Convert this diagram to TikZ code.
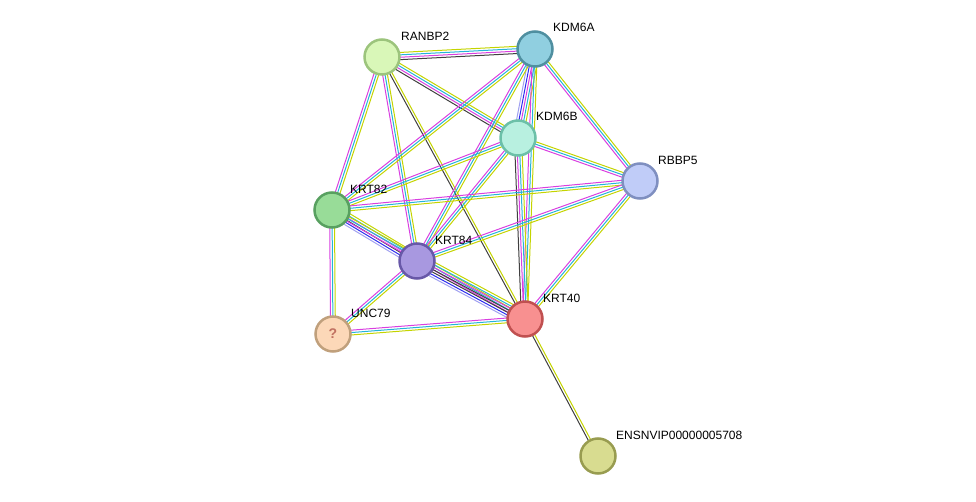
\documentclass[tikz,border=0pt]{standalone}
\usepackage{fontspec}
\setmainfont{Liberation Sans}
\usetikzlibrary{calc}
\definecolor{mg}{HTML}{D93FE0}
\definecolor{cy}{HTML}{25B4D8}
\definecolor{yg}{HTML}{C4D400}
\definecolor{bk}{HTML}{404040}
\definecolor{bl}{HTML}{2A2AF0}
\definecolor{lb}{HTML}{A0A0F0}
\newcommand\stredge[4]{%
  \foreach \c [count=\i] in {#4}{%
    \pgfmathsetmacro\off{(\i-(#3+1)/2)*2.4}
    \draw[\c,line width=1pt] ($(#1)!\off pt!90:(#2)$) -- ($(#2)!\off pt!-90:(#1)$);
  }}
\tikzset{prot/.style={circle,minimum size=35pt,inner sep=0pt,line width=2.5pt},
  lab/.style={anchor=west,font=\fontsize{12pt}{13pt}\selectfont,inner sep=0pt}}
\begin{document}
\begin{tikzpicture}[x=1pt,y=-1pt]
\useasboundingbox (0,0) rectangle (976,502);
\coordinate (ranbp2) at (382,57);
\coordinate (kdm6a) at (535,49);
\coordinate (kdm6b) at (518,138);
\coordinate (rbbp5) at (640,181);
\coordinate (krt82) at (332,210);
\coordinate (krt84) at (417,261);
\coordinate (krt40) at (525,319);
\coordinate (unc79) at (333,334);
\coordinate (ens) at (598,456);
\stredge{ranbp2}{kdm6a}{4}{bk,mg,cy,yg}
\stredge{ranbp2}{kdm6b}{4}{bk,mg,cy,yg}
\stredge{ranbp2}{krt82}{3}{mg,cy,yg}
\stredge{ranbp2}{krt84}{3}{mg,cy,yg}
\stredge{ranbp2}{krt40}{2}{bk,yg}
\stredge{kdm6a}{kdm6b}{5}{lb,bl,mg,cy,yg}
\stredge{kdm6a}{rbbp5}{3}{mg,cy,yg}
\stredge{kdm6a}{krt82}{3}{mg,cy,yg}
\stredge{kdm6a}{krt84}{3}{mg,cy,yg}
\stredge{kdm6a}{krt40}{3}{mg,cy,yg}
\stredge{kdm6b}{rbbp5}{3}{mg,cy,yg}
\stredge{kdm6b}{krt82}{3}{mg,cy,yg}
\stredge{kdm6b}{krt84}{3}{mg,cy,yg}
\stredge{kdm6b}{krt40}{4}{bk,mg,cy,yg}
\stredge{rbbp5}{krt82}{3}{mg,cy,yg}
\stredge{rbbp5}{krt84}{3}{mg,cy,yg}
\stredge{rbbp5}{krt40}{3}{mg,cy,yg}
\stredge{krt82}{krt84}{6}{lb,bl,bk,mg,cy,yg}
\stredge{krt82}{krt40}{3}{mg,cy,yg}
\stredge{krt82}{unc79}{3}{mg,cy,yg}
\stredge{krt84}{krt40}{7}{lb,bl,bk,bk,mg,cy,yg}
\stredge{krt84}{unc79}{3}{mg,cy,yg}
\stredge{krt40}{unc79}{3}{mg,cy,yg}
\stredge{krt40}{ens}{2}{bk,yg}
\node[prot,fill={rgb,255:red,217;green,247;blue,184},draw={rgb,255:red,156;green,196;blue,124}] (n-ranbp2) at (ranbp2) {};
\node[prot,fill={rgb,255:red,144;green,207;blue,224},draw={rgb,255:red,79;green,143;blue,160}] (n-kdm6a) at (kdm6a) {};
\node[prot,fill={rgb,255:red,184;green,240;blue,224},draw={rgb,255:red,108;green,192;blue,168}] (n-kdm6b) at (kdm6b) {};
\node[prot,fill={rgb,255:red,192;green,204;blue,248},draw={rgb,255:red,127;green,143;blue,192}] (n-rbbp5) at (rbbp5) {};
\node[prot,fill={rgb,255:red,152;green,220;blue,152},draw={rgb,255:red,88;green,160;blue,96}] (n-krt82) at (krt82) {};
\node[prot,fill={rgb,255:red,168;green,152;blue,224},draw={rgb,255:red,104;green,88;blue,168}] (n-krt84) at (krt84) {};
\node[prot,fill={rgb,255:red,248;green,144;blue,144},draw={rgb,255:red,192;green,80;blue,80}] (n-krt40) at (krt40) {};
\node[prot,fill={rgb,255:red,252;green,216;blue,184},draw={rgb,255:red,192;green,160;blue,124},text={rgb,255:red,192;green,112;blue,96},font=\bfseries\fontsize{14pt}{14pt}\selectfont] (n-unc79) at (unc79) {?};
\node[prot,fill={rgb,255:red,216;green,220;blue,144},draw={rgb,255:red,152;green,156;blue,80}] (n-ens) at (ens) {};
\node[lab] (l-ranbp2) at (401,36) {RANBP2};
\node[lab] (l-kdm6a) at (553,27) {KDM6A};
\node[lab] (l-kdm6b) at (536,116) {KDM6B};
\node[lab] (l-rbbp5) at (658,160) {RBBP5};
\node[lab] (l-krt82) at (350,189) {KRT82};
\node[lab] (l-krt84) at (435,240) {KRT84};
\node[lab] (l-krt40) at (543,298) {KRT40};
\node[lab] (l-unc79) at (351,313) {UNC79};
\node[lab] (l-ens) at (616,435) {ENSNVIP00000005708};
\end{tikzpicture}
\end{document}
